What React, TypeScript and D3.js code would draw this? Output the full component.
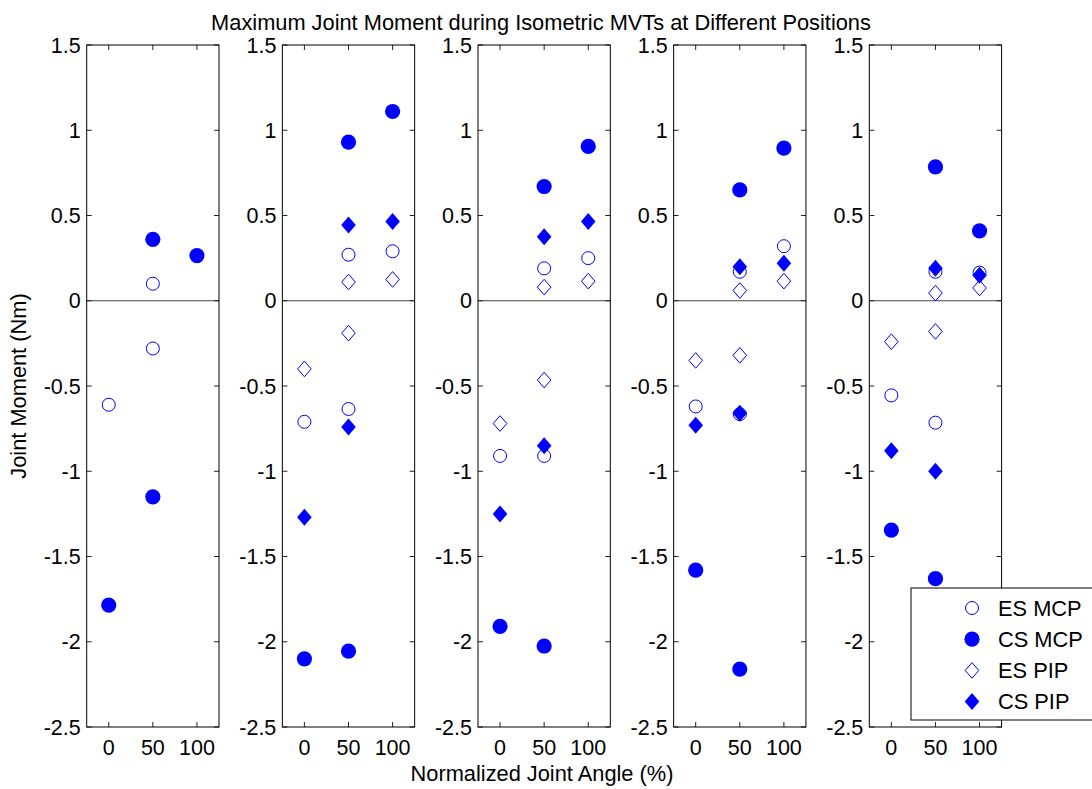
import React, { useEffect, useRef } from 'react';
import * as d3 from 'd3';

// joint angle categories (%)
const angles = [0, 50, 100];
const yTicks = [1.5, 1, 0.5, 0, -0.5, -1, -1.5, -2, -2.5];
const seriesNames = ['ES MCP', 'CS MCP', 'ES PIP', 'CS PIP'];

// one entry per panel, each point is [angle, moment]
const esMcp = [
  [[0, -0.61], [50, 0.10], [50, -0.28]],
  [[50, 0.27], [100, 0.29], [0, -0.71], [50, -0.635]],
  [[50, 0.19], [100, 0.25], [0, -0.91], [50, -0.91]],
  [[50, 0.17], [100, 0.32], [0, -0.62], [50, -0.665]],
  [[50, 0.17], [100, 0.165], [0, -0.555], [50, -0.715]],
];
const csMcp = [
  [[50, 0.36], [100, 0.265], [50, -1.15], [0, -1.785]],
  [[50, 0.93], [100, 1.11], [0, -2.10], [50, -2.055]],
  [[50, 0.67], [100, 0.905], [0, -1.91], [50, -2.025]],
  [[50, 0.65], [100, 0.895], [0, -1.58], [50, -2.16]],
  [[50, 0.785], [100, 0.41], [0, -1.345], [50, -1.63]],
];
const esPip = [
  [],
  [[50, 0.11], [100, 0.125], [50, -0.19], [0, -0.40]],
  [[50, 0.08], [100, 0.115], [50, -0.465], [0, -0.72]],
  [[50, 0.06], [100, 0.115], [50, -0.32], [0, -0.35]],
  [[50, 0.045], [100, 0.075], [50, -0.18], [0, -0.24]],
];
const csPip = [
  [],
  [[50, 0.445], [100, 0.465], [50, -0.74], [0, -1.27]],
  [[50, 0.375], [100, 0.465], [50, -0.85], [0, -1.25]],
  [[50, 0.20], [100, 0.22], [50, -0.66], [0, -0.73]],
  [[50, 0.19], [100, 0.15], [50, -1.0], [0, -0.88]],
];

const BLUE = '#0000ff';
const FONT = 'Arial, "Liberation Sans", Helvetica, sans-serif';

const diamond = (hw: number, hh: number) => `M0,${-hh}L${hw},0L0,${hh}L${-hw},0Z`;

// draw one marker of the given series index at (0,0) of g
const drawMarker = (g: any, k: number) => {
  if (k === 0) g.append('circle').attr('r', 6.5).attr('fill', 'none').attr('stroke', BLUE).attr('stroke-width', 1);
  if (k === 1) g.append('circle').attr('r', 7.6).attr('fill', BLUE);
  if (k === 2) g.append('path').attr('d', diamond(6.8, 7.8)).attr('fill', 'none').attr('stroke', BLUE).attr('stroke-width', 1);
  if (k === 3) g.append('path').attr('d', diamond(7.3, 8.5)).attr('fill', BLUE);
};

const App = () => {
  const svgRef = useRef<SVGSVGElement>(null);

  useEffect(() => {
    document.body.style.margin = '0';
    const w = 1092;
    const h = 789;
    const top = 45;
    const bottom = 727;
    const panelW = 132.3;
    const firstLeft = 86.7;
    const step = 195.65;

    const svg = d3.select(svgRef.current).attr('width', w).attr('height', h);
    svg.selectAll('*').remove();
    svg.append('rect').attr('width', w).attr('height', h).attr('fill', '#fff');

    const y = d3.scaleLinear().domain([-2.5, 1.5]).range([bottom, top]);
    const all = [esMcp, csMcp, esPip, csPip];

    for (let p = 0; p < 5; p++) {
      const left = firstLeft + p * step;
      const x = d3.scaleLinear().domain([-25, 125]).range([left, left + panelW]);
      const g = svg.append('g');

      // zero line
      g.append('line')
        .attr('x1', left).attr('x2', left + panelW)
        .attr('y1', y(0)).attr('y2', y(0))
        .attr('stroke', '#444').attr('stroke-width', 1.2);

      // inward ticks
      yTicks.forEach((t) => {
        g.append('line').attr('x1', left).attr('x2', left + 5).attr('y1', y(t)).attr('y2', y(t)).attr('stroke', '#222');
        g.append('line').attr('x1', left + panelW).attr('x2', left + panelW - 5).attr('y1', y(t)).attr('y2', y(t)).attr('stroke', '#222');
        g.append('text')
          .attr('x', left - 6).attr('y', y(t)).attr('dy', '0.35em')
          .attr('text-anchor', 'end')
          .attr('font-family', FONT).attr('font-size', 21.5)
          .text(String(t));
      });
      angles.forEach((a) => {
        g.append('line').attr('x1', x(a)).attr('x2', x(a)).attr('y1', top).attr('y2', top + 5).attr('stroke', '#222');
        g.append('line').attr('x1', x(a)).attr('x2', x(a)).attr('y1', bottom).attr('y2', bottom - 5).attr('stroke', '#222');
        g.append('text')
          .attr('x', x(a)).attr('y', bottom + 28)
          .attr('text-anchor', 'middle')
          .attr('font-family', FONT).attr('font-size', 21.5)
          .text(a);
      });

      // box
      g.append('rect')
        .attr('x', left).attr('y', top).attr('width', panelW).attr('height', bottom - top)
        .attr('fill', 'none').attr('stroke', '#000').attr('stroke-width', 1);

      // markers, in legend order
      all.forEach((series, k) => {
        series[p].forEach((d) => {
          const m = g.append('g').attr('transform', `translate(${x(d[0])},${y(d[1])})`);
          drawMarker(m, k);
        });
      });
    }

    // title and axis labels
    svg.append('text')
      .attr('x', 541).attr('y', 30).attr('text-anchor', 'middle')
      .attr('font-family', FONT).attr('font-size', 21.8)
      .text('Maximum Joint Moment during Isometric MVTs at Different Positions');
    svg.append('text')
      .attr('x', 542).attr('y', 781).attr('text-anchor', 'middle')
      .attr('font-family', FONT).attr('font-size', 21.8)
      .text('Normalized Joint Angle (%)');
    svg.append('text')
      .attr('transform', `translate(26,${(top + bottom) / 2}) rotate(-90)`)
      .attr('text-anchor', 'middle')
      .attr('font-family', FONT).attr('font-size', 21.8)
      .text('Joint Moment (Nm)');

    // legend
    const lg = svg.append('g');
    lg.append('rect')
      .attr('x', 911).attr('y', 588).attr('width', 200).attr('height', 132)
      .attr('fill', '#fff').attr('stroke', '#000').attr('stroke-width', 1);
    seriesNames.forEach((name, k) => {
      const ly = 608 + k * 31.2;
      drawMarker(lg.append('g').attr('transform', `translate(972,${ly})`), k);
      lg.append('text')
        .attr('x', 998).attr('y', ly).attr('dy', '0.35em')
        .attr('font-family', FONT).attr('font-size', 21.8)
        .text(name);
    });
  }, []);

  return <svg ref={svgRef} style={{ display: 'block' }}></svg>;
};

export default App;
